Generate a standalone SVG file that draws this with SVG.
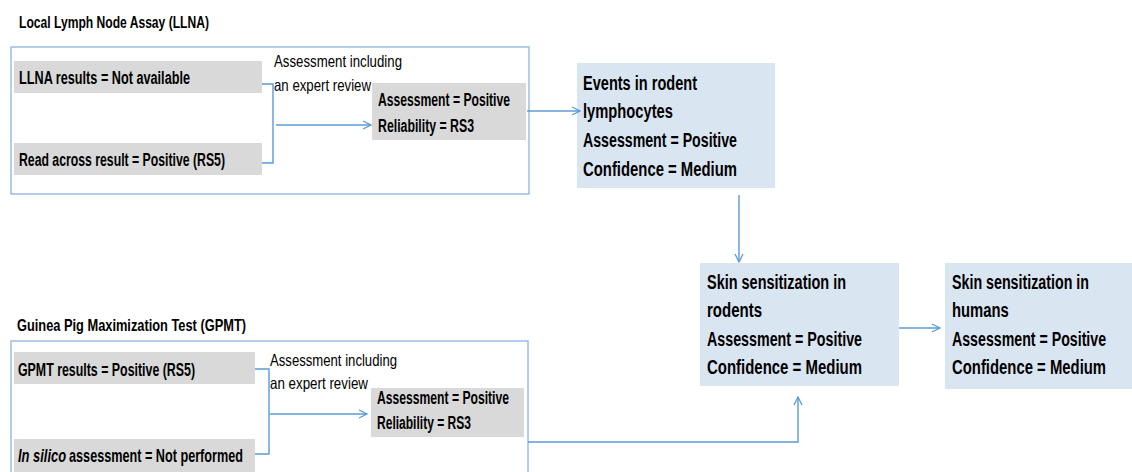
<svg xmlns="http://www.w3.org/2000/svg" width="1132" height="472" viewBox="0 0 1132 472">
  <style>
    text { font-family: "Liberation Sans", Arial, sans-serif; fill: #000; }
    .title { font-size: 17px; font-weight: bold; }
    .gray-txt { font-size: 17.5px; font-weight: bold; }
    .note { font-size: 16.5px; }
    .blue-txt { font-size: 19.5px; font-weight: bold; }
    .frame { fill: none; stroke: #8db3e2; stroke-width: 1.3; }
    .gray { fill: #d9d9d9; }
    .blue { fill: #dae5f2; }
    .link { fill: none; stroke: #5b9bd5; stroke-width: 1.4; }
  </style>
  <defs>
    <marker id="arrow" viewBox="0 0 10 10" refX="9" refY="5" markerWidth="10" markerHeight="10" markerUnits="userSpaceOnUse" orient="auto">
      <path d="M1,1 L9,5 L1,9" fill="none" stroke="#5b9bd5" stroke-width="1.3"/>
    </marker>
  </defs>
  <rect width="1132" height="472" fill="#fff"/>

  <!-- LLNA panel -->
  <g id="llna-panel">
    <text class="title" x="19" y="28" textLength="190" lengthAdjust="spacingAndGlyphs">Local Lymph Node Assay (LLNA)</text>
    <rect class="frame" x="11" y="47" width="518" height="147"/>
  </g>
  <g id="llna-results">
    <rect class="gray" x="14" y="61" width="248" height="32"/>
    <text class="gray-txt" x="19" y="84" textLength="171" lengthAdjust="spacingAndGlyphs">LLNA  results = Not available</text>
  </g>
  <g id="read-across">
    <rect class="gray" x="14" y="143" width="248" height="32"/>
    <text class="gray-txt" x="19" y="166" textLength="206" lengthAdjust="spacingAndGlyphs">Read across result = Positive (RS5)</text>
  </g>
  <g id="llna-assessment">
    <rect class="gray" x="372" y="83" width="154" height="57"/>
    <text class="gray-txt" x="378" y="106" textLength="132" lengthAdjust="spacingAndGlyphs">Assessment = Positive</text>
    <text class="gray-txt" x="378" y="132" textLength="96" lengthAdjust="spacingAndGlyphs">Reliability = RS3</text>
  </g>
  <g id="llna-label">
    <text class="note" x="274" y="67" textLength="128" lengthAdjust="spacingAndGlyphs">Assessment including</text>
    <text class="note" x="274" y="91" textLength="97" lengthAdjust="spacingAndGlyphs">an expert review</text>
  </g>

  <!-- GPMT panel -->
  <g id="gpmt-panel">
    <text class="title" x="17" y="331" textLength="229" lengthAdjust="spacingAndGlyphs">Guinea Pig Maximization Test (GPMT)</text>
    <rect class="frame" x="11" y="341" width="517" height="140"/>
  </g>
  <g id="gpmt-results">
    <rect class="gray" x="14" y="352" width="241" height="32"/>
    <text class="gray-txt" x="18" y="376" textLength="177" lengthAdjust="spacingAndGlyphs">GPMT results = Positive (RS5)</text>
  </g>
  <g id="in-silico">
    <rect class="gray" x="14" y="439" width="241" height="40"/>
    <!-- mixed italic/upright line, squeezed horizontally as one unit -->
    <g transform="translate(18 0) scale(0.74 1)">
      <text class="gray-txt" x="0" y="462" font-style="italic">In silico</text>
      <text class="gray-txt" x="69" y="462" textLength="235" lengthAdjust="spacingAndGlyphs">assessment = Not performed</text>
    </g>
  </g>
  <g id="gpmt-assessment">
    <rect class="gray" x="371" y="388" width="153" height="49"/>
    <text class="gray-txt" x="377" y="404" textLength="132" lengthAdjust="spacingAndGlyphs">Assessment = Positive</text>
    <text class="gray-txt" x="377" y="429" textLength="94" lengthAdjust="spacingAndGlyphs">Reliability = RS3</text>
  </g>
  <g id="gpmt-label">
    <text class="note" x="270" y="366" textLength="127" lengthAdjust="spacingAndGlyphs">Assessment including</text>
    <text class="note" x="270" y="389" textLength="98" lengthAdjust="spacingAndGlyphs">an expert review</text>
  </g>

  <!-- Key events -->
  <g id="rodent-lymphocytes">
    <rect class="blue" x="577" y="63" width="198" height="125"/>
    <text class="blue-txt" x="583" y="90" textLength="114" lengthAdjust="spacingAndGlyphs">Events in rodent</text>
    <text class="blue-txt" x="583" y="118" textLength="90" lengthAdjust="spacingAndGlyphs">lymphocytes</text>
    <text class="blue-txt" x="583" y="147" textLength="154" lengthAdjust="spacingAndGlyphs">Assessment = Positive</text>
    <text class="blue-txt" x="583" y="176" textLength="154" lengthAdjust="spacingAndGlyphs">Confidence = Medium</text>
  </g>
  <g id="rodent-sensitization">
    <rect class="blue" x="700" y="263" width="199" height="123"/>
    <text class="blue-txt" x="707" y="289" textLength="139" lengthAdjust="spacingAndGlyphs">Skin sensitization in</text>
    <text class="blue-txt" x="707" y="317" textLength="55" lengthAdjust="spacingAndGlyphs">rodents</text>
    <text class="blue-txt" x="707" y="346" textLength="155" lengthAdjust="spacingAndGlyphs">Assessment = Positive</text>
    <text class="blue-txt" x="707" y="374" textLength="155" lengthAdjust="spacingAndGlyphs">Confidence = Medium</text>
  </g>
  <g id="human-sensitization">
    <rect class="blue" x="945" y="263" width="187" height="126"/>
    <!-- lines are drawn at natural width and squeezed horizontally -->
    <g transform="translate(952 0) scale(0.71 1)">
      <text class="blue-txt" x="0" y="289" textLength="193" lengthAdjust="spacingAndGlyphs">Skin sensitization in</text>
      <text class="blue-txt" x="0" y="317" textLength="80" lengthAdjust="spacingAndGlyphs">humans</text>
      <text class="blue-txt" x="0" y="346" textLength="217" lengthAdjust="spacingAndGlyphs">Assessment = Positive</text>
      <text class="blue-txt" x="0" y="374" textLength="217" lengthAdjust="spacingAndGlyphs">Confidence = Medium</text>
    </g>
  </g>

  <!-- Connectors -->
  <g id="connectors">
    <path class="link" d="M262,84 H273 V163 H262"/>
    <path class="link" d="M276,125 H371" marker-end="url(#arrow)"/>
    <path class="link" d="M255,369 H269 V454 H255"/>
    <path class="link" d="M270,414 H367" marker-end="url(#arrow)"/>
    <path class="link" d="M527,111 H580" marker-end="url(#arrow)"/>
    <path class="link" d="M739,195 V262" marker-end="url(#arrow)"/>
    <path class="link" d="M528,442 H798 V397" marker-end="url(#arrow)"/>
    <path class="link" d="M899,328 H940" marker-end="url(#arrow)"/>
  </g>
</svg>
